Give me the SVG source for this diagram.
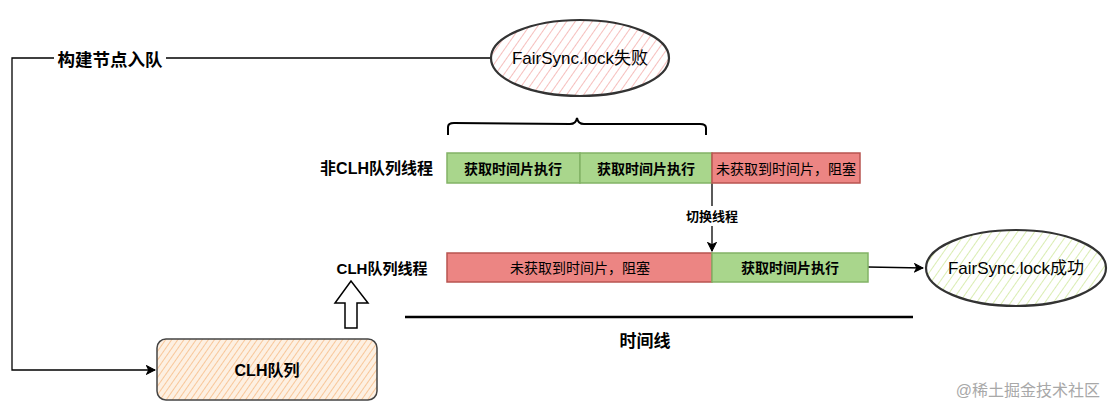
<svg xmlns="http://www.w3.org/2000/svg" width="1116" height="416" viewBox="0 0 1116 416">
<defs>
<style>
.t{font-family:"Liberation Sans","Noto Sans CJK SC",sans-serif;fill:#000}
.b{font-weight:bold}
.line{fill:none;stroke:#000;stroke-width:1.3}
.ell{stroke:#333;stroke-width:2.2}
.g{fill:#a9d68c;stroke:#82b366;stroke-width:1.5}
.r{fill:#ec8583;stroke:#b85450;stroke-width:1.5}
</style>
<pattern id="hp" width="7" height="7" patternUnits="userSpaceOnUse" patternTransform="rotate(35)"><rect width="7" height="7" fill="#fff"/><line x1="0" y1="0" x2="0" y2="7" stroke="#f29c9a" stroke-width="1.3"/></pattern>
<pattern id="hg" width="7" height="7" patternUnits="userSpaceOnUse" patternTransform="rotate(35)"><rect width="7" height="7" fill="#fff"/><line x1="0" y1="0" x2="0" y2="7" stroke="#c6e488" stroke-width="1.3"/></pattern>
<pattern id="ho" width="5" height="5" patternUnits="userSpaceOnUse" patternTransform="rotate(35)"><rect width="5" height="5" fill="#fdf0e2"/><line x1="0" y1="0" x2="0" y2="5" stroke="#f7b982" stroke-width="1.5"/></pattern>
<marker id="ar" viewBox="0 0 10 10" refX="9" refY="5" markerWidth="8" markerHeight="8" orient="auto"><path d="M1,1 L9,5 L1,9 L3,5 Z" fill="#000" stroke="#000" stroke-width="1"/></marker>
</defs>
<rect width="1116" height="416" fill="#fff"/>
<g id="connectors">
<path class="line" d="M490,58 H12 V370 H155" marker-end="url(#ar)"/>
<rect x="54" y="47" width="112" height="24" fill="#fff"/>
<text class="t b" x="110" y="66" font-size="17.5" text-anchor="middle">构建节点入队</text>
<path class="line" d="M712,183 V251" marker-end="url(#ar)"/>
<rect x="680" y="206" width="64" height="20" fill="#fff"/>
<text class="t b" x="712" y="221" font-size="13" text-anchor="middle">切换线程</text>
<path class="line" d="M868,267 L923,268" marker-end="url(#ar)"/>
<path d="M448,135 V127 Q448,123 454,123 L570,124 Q576,124 577,118 Q578,124 584,124 L700,124 Q706,124 706,128 V135" fill="none" stroke="#000" stroke-width="2"/>
<path d="M405,317 H913" stroke="#000" stroke-width="2.5"/>
<path d="M345,328 V303 H335 L351,281 L368,303 H357 V328 Z" fill="#fff" stroke="#000" stroke-width="1.5"/>
</g>
<g id="fail">
<ellipse cx="580" cy="58" rx="89" ry="38" fill="url(#hp)" class="ell"/>
<text class="t" x="580" y="64" font-size="17" text-anchor="middle">FairSync.lock失败</text>
</g>
<g id="labels">
<text class="t b" x="433" y="174" font-size="16" text-anchor="end">非CLH队列线程</text>
<text class="t b" x="382" y="274" font-size="15" text-anchor="middle">CLH队列线程</text>
<text class="t b" x="645" y="347" font-size="17" text-anchor="middle">时间线</text>
</g>
<g id="row1">
<rect class="g" x="447" y="153" width="133" height="30"/>
<text class="t b" x="513" y="174" font-size="14" text-anchor="middle">获取时间片执行</text>
<rect class="g" x="580" y="153" width="132" height="30"/>
<text class="t b" x="646" y="174" font-size="14" text-anchor="middle">获取时间片执行</text>
<rect class="r" x="712" y="153" width="148" height="30"/>
<text class="t" x="786" y="174" font-size="14" text-anchor="middle">未获取到时间片，阻塞</text>
</g>
<g id="row2">
<rect class="r" x="447" y="253" width="265" height="29"/>
<text class="t" x="580" y="273" font-size="14" text-anchor="middle">未获取到时间片，阻塞</text>
<rect class="g" x="712" y="253" width="156" height="29"/>
<text class="t b" x="790" y="273" font-size="14" text-anchor="middle">获取时间片执行</text>
</g>
<g id="success">
<ellipse cx="1016" cy="268" rx="90" ry="38" fill="url(#hg)" class="ell"/>
<text class="t" x="1016" y="274" font-size="17" text-anchor="middle">FairSync.lock成功</text>
</g>
<g id="clh">
<rect x="157" y="339" width="220" height="61" rx="9" fill="url(#ho)" stroke="#444" stroke-width="1.5"/>
<text class="t b" x="267" y="376" font-size="16" text-anchor="middle">CLH队列</text>
</g>
<text class="t" x="1100" y="396" font-size="16" text-anchor="end" style="fill:#a8a8a8">@稀土掘金技术社区</text>
</svg>
